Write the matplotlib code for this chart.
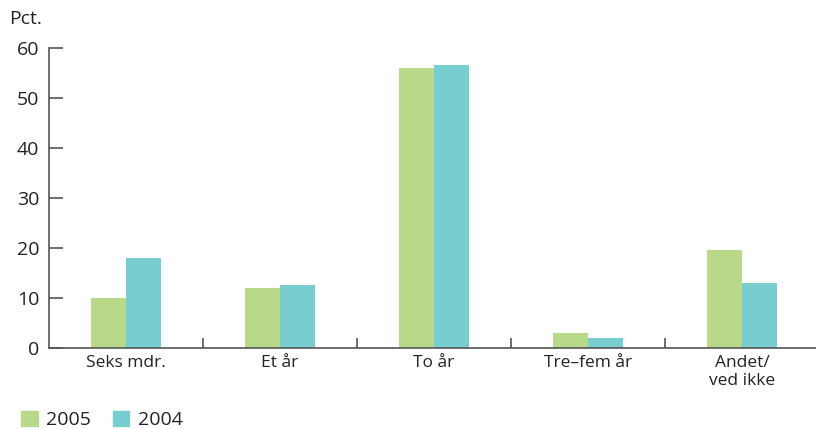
import matplotlib
matplotlib.use("Agg")
import matplotlib.pyplot as plt
from matplotlib.patches import Patch
import numpy as np

categories = ["Seks mdr.", "Et år", "To år", "Tre–fem år", "Andet/\nved ikke"]
series_names = ["2005", "2004"]
values_2005 = [10, 12, 56, 3, 19.6]
values_2004 = [18, 12.6, 56.6, 2, 13]
y_ticks = [0, 10, 20, 30, 40, 50, 60]

green = "#B9D98A"
teal = "#78CDD0"
axis_col = "#555555"
text_col = "#222222"

plt.rcParams["font.family"] = ["Open Sans", "DejaVu Sans"]

fig = plt.figure(figsize=(8.16, 4.29), dpi=100)
ax = fig.add_axes([49 / 816, 1 - 348 / 429, 770 / 816, 300 / 429])

x = np.arange(len(categories))
w = 0.227
ax.bar(x - w / 2, values_2005, width=w, color=green, label=series_names[0])
ax.bar(x + w / 2, values_2004, width=w, color=teal, label=series_names[1])

ax.set_xlim(-0.5, len(categories) - 0.5)
ax.set_ylim(0, 60)

for s in ["top", "right"]:
    ax.spines[s].set_visible(False)
for s in ["left", "bottom"]:
    ax.spines[s].set_color(axis_col)
    ax.spines[s].set_linewidth(1.2)

ax.set_yticks(y_ticks)
ax.tick_params(axis="y", direction="in", length=10, width=1.2, color=axis_col,
               labelsize=14, labelcolor=text_col, pad=7)

ax.set_xticks(x)
ax.set_xticklabels(categories, fontsize=12.5, color=text_col, linespacing=1.15)
ax.tick_params(axis="x", which="major", length=0, pad=5)
ax.set_xticks(np.arange(0.5, len(categories) - 0.5, 1.0), minor=True)
ax.tick_params(axis="x", which="minor", direction="in", length=7, width=1.2, color=axis_col)

fig.text(9 / 816, 1 - 19 / 429, "Pct.", fontsize=14, color=text_col, va="center", ha="left")

handles = [Patch(color=green), Patch(color=teal)]
fig.legend(handles, series_names, loc="center left", bbox_to_anchor=(21 / 816, 1 - 420 / 429),
           ncol=2, frameon=False, fontsize=14, handlelength=0.85, handleheight=0.85,
           handletextpad=0.45, columnspacing=1.1, labelcolor=text_col,
           borderpad=0, borderaxespad=0)

fig.savefig("out.png", dpi=100)
